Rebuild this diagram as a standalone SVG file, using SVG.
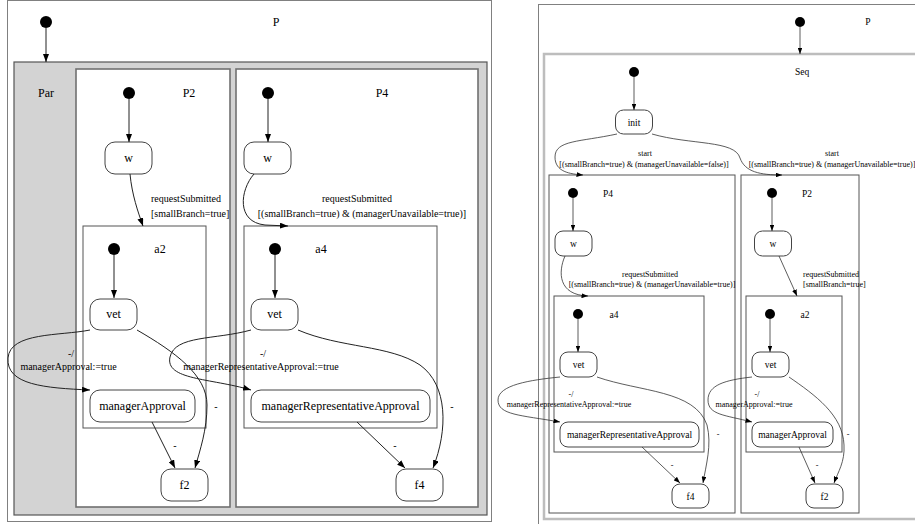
<svg xmlns="http://www.w3.org/2000/svg" width="915" height="524" viewBox="0 0 915 524">
<style>
  text { font-family: "Liberation Serif", "Times New Roman", serif; fill: #000; }
  .t { font-size: 12px; text-anchor: middle; }
  .el { font-size: 10px; text-anchor: middle; }
  .ell { font-size: 10px; text-anchor: start; }
  .ts { font-size: 9.5px; text-anchor: middle; }
  .els { font-size: 8px; text-anchor: middle; }
  .elsl { font-size: 8px; text-anchor: start; }
  .frame { fill: #fff; stroke: #808080; stroke-width: 1; }
  .par { fill: #d3d3d3; stroke: #555; stroke-width: 1.2; }
  .region { fill: #fff; stroke: #707070; stroke-width: 1.6; }
  .seq { fill: #fff; stroke: #bdbdbd; stroke-width: 2.5; }
  .box { fill: #fff; stroke: #555; stroke-width: 1; }
  .node { fill: #fff; stroke: #444; stroke-width: 1; }
  .init { fill: #000; }
  .e { fill: none; stroke: #222; stroke-width: 1; marker-end: url(#arr); }
  .es { fill: none; stroke: #333; stroke-width: 0.8; marker-end: url(#arrs); }
</style>
<defs>
  <marker id="arr" viewBox="0 0 8 6" refX="8" refY="3" markerWidth="8" markerHeight="6" markerUnits="userSpaceOnUse" orient="auto">
    <path d="M0,0 L8,3 L0,6 z" fill="#000"/>
  </marker>
  <marker id="arrs" viewBox="0 0 8 6" refX="8" refY="3" markerWidth="6.5" markerHeight="4.9" markerUnits="userSpaceOnUse" orient="auto">
    <path d="M0,0 L8,3 L0,6 z" fill="#000"/>
  </marker>
</defs>

<!-- ===== Parallel composition ===== -->
<g id="left-P">
  <rect class="frame" x="7.5" y="0.5" width="484" height="521"/>
  <circle class="init" cx="46" cy="22" r="6"/>
  <text class="t" x="276" y="26">P</text>
</g>
<g id="left-Par">
  <rect class="par" x="14" y="62" width="473" height="453"/>
  <text class="t" x="46" y="97">Par</text>
</g>
<g id="left-P2">
  <rect class="region" x="76" y="69" width="154" height="438"/>
  <circle class="init" cx="129" cy="93" r="6"/>
  <text class="t" x="189" y="97">P2</text>
</g>
<g id="left-P4">
  <rect class="region" x="236" y="69" width="242" height="438"/>
  <circle class="init" cx="268" cy="93" r="6"/>
  <text class="t" x="382" y="97">P4</text>
</g>
<g id="left-P2-w">
  <rect class="node" x="105" y="142" width="47" height="32" rx="10"/>
  <text class="t" x="128.5" y="162">w</text>
</g>
<g id="left-P4-w">
  <rect class="node" x="244" y="142" width="47" height="32" rx="10"/>
  <text class="t" x="267.5" y="162">w</text>
</g>
<g id="left-a2">
  <rect class="box" x="83" y="226" width="123" height="202"/>
  <circle class="init" cx="114" cy="249" r="6"/>
  <text class="t" x="160" y="253">a2</text>
</g>
<g id="left-a4">
  <rect class="box" x="244" y="226" width="193" height="202"/>
  <circle class="init" cx="275" cy="249" r="6"/>
  <text class="t" x="321" y="253">a4</text>
</g>
<g id="left-a2-vet">
  <rect class="node" x="90" y="299" width="47" height="31" rx="10"/>
  <text class="t" x="113.5" y="318">vet</text>
</g>
<g id="left-a2-managerApproval">
  <rect class="node" x="90" y="390" width="105" height="32" rx="10"/>
  <text class="t" x="142.5" y="410">managerApproval</text>
</g>
<g id="left-f2">
  <rect class="node" x="161" y="469" width="47" height="32" rx="10"/>
  <text class="t" x="184.5" y="489">f2</text>
</g>
<g id="left-a4-vet">
  <rect class="node" x="251" y="299" width="47" height="31" rx="10"/>
  <text class="t" x="274.5" y="318">vet</text>
</g>
<g id="left-a4-managerRepresentativeApproval">
  <rect class="node" x="251" y="390" width="179" height="32" rx="10"/>
  <text class="t" x="340.5" y="410">managerRepresentativeApproval</text>
</g>
<g id="left-f4">
  <rect class="node" x="396" y="469" width="47" height="32" rx="10"/>
  <text class="t" x="419.5" y="489">f4</text>
</g>

<!-- ===== Sequential composition ===== -->
<g id="right-P">
  <rect class="frame" x="538.5" y="4.5" width="420" height="540"/>
  <circle class="init" cx="800" cy="22" r="5"/>
  <text class="ts" x="868" y="25">P</text>
</g>
<g id="right-Seq">
  <rect class="seq" x="544" y="54" width="420" height="465"/>
  <circle class="init" cx="634" cy="72" r="5"/>
  <text class="ts" x="802" y="75">Seq</text>
</g>
<g id="right-init">
  <rect class="node" x="615.5" y="110" width="37" height="24" rx="8"/>
  <text class="ts" x="634" y="125.5">init</text>
</g>
<g id="right-P4">
  <rect class="box" x="549" y="175" width="186" height="338"/>
  <circle class="init" cx="573" cy="193" r="5"/>
  <text class="ts" x="608" y="196.5">P4</text>
</g>
<g id="right-P2">
  <rect class="box" x="741" y="175" width="118" height="338"/>
  <circle class="init" cx="772" cy="193" r="5"/>
  <text class="ts" x="807" y="196.5">P2</text>
</g>
<g id="right-P4-w">
  <rect class="node" x="555" y="231" width="37" height="25" rx="8"/>
  <text class="ts" x="573.5" y="246.5">w</text>
</g>
<g id="right-P2-w">
  <rect class="node" x="754.5" y="231" width="37" height="25" rx="8"/>
  <text class="ts" x="773" y="246.5">w</text>
</g>
<g id="right-a4">
  <rect class="box" x="554" y="296" width="150" height="156"/>
  <circle class="init" cx="578" cy="314" r="5"/>
  <text class="ts" x="614" y="317.5">a4</text>
</g>
<g id="right-a2">
  <rect class="box" x="746" y="296" width="96" height="156"/>
  <circle class="init" cx="770" cy="314" r="5"/>
  <text class="ts" x="805" y="317.5">a2</text>
</g>
<g id="right-a4-vet">
  <rect class="node" x="560" y="352" width="37" height="25" rx="8"/>
  <text class="ts" x="578.5" y="368">vet</text>
</g>
<g id="right-a4-managerRepresentativeApproval">
  <rect class="node" x="560" y="422" width="139" height="25" rx="8"/>
  <text class="ts" x="629.5" y="438">managerRepresentativeApproval</text>
</g>
<g id="right-f4">
  <rect class="node" x="672" y="484" width="37" height="24" rx="8"/>
  <text class="ts" x="690.5" y="499.5">f4</text>
</g>
<g id="right-a2-vet">
  <rect class="node" x="752" y="352" width="37" height="25" rx="8"/>
  <text class="ts" x="770.5" y="368">vet</text>
</g>
<g id="right-a2-managerApproval">
  <rect class="node" x="752" y="422" width="81" height="25" rx="8"/>
  <text class="ts" x="792.5" y="438">managerApproval</text>
</g>
<g id="right-f2">
  <rect class="node" x="806" y="484" width="37" height="24" rx="8"/>
  <text class="ts" x="824.5" y="499.5">f2</text>
</g>

<!-- ===== Transitions ===== -->
<g id="connectors">
  <!-- parallel composition -->
  <path class="e" d="M46,28 L46,62"/>
  <path class="e" d="M129,99 L129,142"/>
  <path class="e" d="M268,99 L268,142"/>
  <path class="e" d="M130,174 C132,195 138,212 143,226"/>
  <text class="ell" x="151" y="202">requestSubmitted</text>
  <text class="ell" x="151" y="217">[smallBranch=true]</text>
  <path class="e" d="M254,174 C240,190 236,222 265,225 L288,226"/>
  <text class="el" x="357" y="202">requestSubmitted</text>
  <text class="el" x="362" y="217">[(smallBranch=true) &amp; (managerUnavailable=true)]</text>
  <path class="e" d="M114,255 L114,298"/>
  <path class="e" d="M275,255 L275,298"/>
  <path class="e" d="M90,330 C60,336 10,332 8,358 C6,385 45,388 90,390"/>
  <text class="el" x="71" y="357">-/</text>
  <text class="el" x="68.5" y="370">managerApproval:=true</text>
  <path class="e" d="M137,330 C175,352 207,375 207,405 C207,430 200,450 195,468"/>
  <text class="el" x="216" y="410">-</text>
  <path class="e" d="M152,422 L175,468"/>
  <text class="el" x="175" y="449">-</text>
  <path class="e" d="M251,330 C215,340 175,335 170,357 C165,380 210,378 251,390"/>
  <text class="el" x="263" y="357">-/</text>
  <text class="el" x="261" y="370">managerRepresentativeApproval:=true</text>
  <path class="e" d="M298,330 C340,348 390,345 420,365 C448,385 448,430 433,468"/>
  <text class="el" x="452" y="410">-</text>
  <path class="e" d="M357,422 L405,468"/>
  <text class="el" x="395" y="449">-</text>

  <!-- sequential composition -->
  <path class="es" d="M800,27 L800,54"/>
  <path class="es" d="M634,77 L634,110"/>
  <path class="es" d="M617,134 C580,142 555,140 555,157 C555,172 570,174 583,175"/>
  <text class="els" x="645" y="156">start</text>
  <text class="els" x="644" y="166.5">[(smallBranch=true) &amp; (managerUnavailable=false)]</text>
  <path class="es" d="M652,134 C690,145 735,140 740,158 C745,172 760,175 782,175"/>
  <text class="els" x="832" y="156">start</text>
  <text class="els" x="832" y="166.5">[(smallBranch=true) &amp; (managerUnavailable=true)]</text>
  <path class="es" d="M573,198 L573,231"/>
  <path class="es" d="M772,198 L772,231"/>
  <path class="es" d="M565,256 C558,272 558,295 588,296"/>
  <text class="els" x="650" y="277">requestSubmitted</text>
  <text class="els" x="652" y="287">[(smallBranch=true) &amp; (managerUnavailable=true)]</text>
  <path class="es" d="M779,256 L797,296"/>
  <text class="elsl" x="803" y="277">requestSubmitted</text>
  <text class="elsl" x="803" y="287">[smallBranch=true]</text>
  <path class="es" d="M578,319 L578,352"/>
  <path class="es" d="M770,319 L770,352"/>
  <path class="es" d="M560,377 C530,380 498,385 498,400 C498,415 520,415 560,422"/>
  <text class="els" x="571" y="397">-/</text>
  <text class="els" x="569" y="407">managerRepresentativeApproval:=true</text>
  <path class="es" d="M597,377 C640,392 695,390 707,425 C712,445 706,465 703,483"/>
  <text class="els" x="718" y="437">-</text>
  <path class="es" d="M642,447 L680,483"/>
  <text class="els" x="672" y="468">-</text>
  <path class="es" d="M752,377 C725,380 708,385 708,400 C708,415 725,415 752,422"/>
  <text class="els" x="757" y="397">-/</text>
  <text class="els" x="754" y="407">managerApproval:=true</text>
  <path class="es" d="M789,377 C815,395 843,415 844,445 C845,462 838,472 834,483"/>
  <text class="els" x="848" y="437">-</text>
  <path class="es" d="M799,447 L815,483"/>
  <text class="els" x="817" y="468">-</text>
</g>
</svg>
